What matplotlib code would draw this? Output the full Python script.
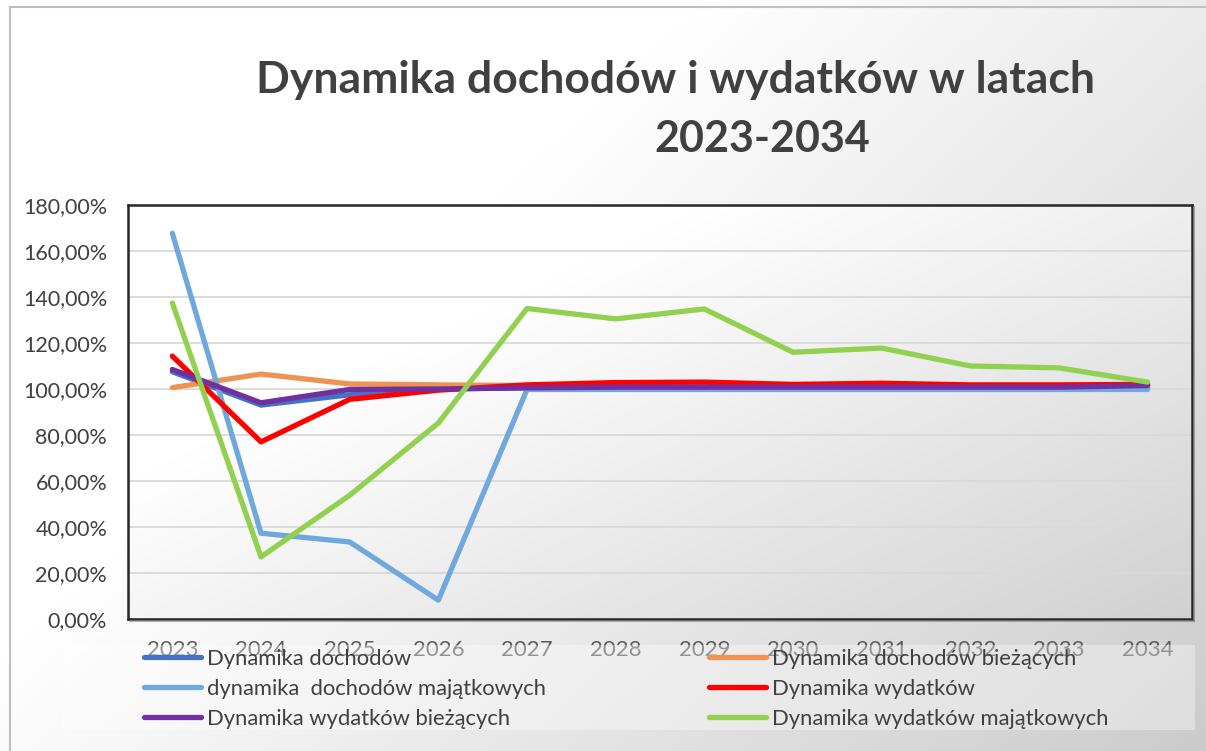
import numpy as np
import matplotlib
matplotlib.use("Agg")
import matplotlib.pyplot as plt
from matplotlib.ticker import FuncFormatter, MultipleLocator
from matplotlib.lines import Line2D
from matplotlib.patches import Rectangle

plt.rcParams['font.family'] = ['Lato', 'DejaVu Sans']

years = ['2023', '2024', '2025', '2026', '2027', '2028', '2029', '2030', '2031', '2032', '2033', '2034']

dochody = [107.5, 93.0, 97.5, 100.0, 100.5, 100.5, 100.5, 100.3, 100.3, 100.2, 100.2, 100.3]
dochody_biezace = [100.6, 106.5, 102.2, 101.8, 101.5, 101.5, 101.5, 101.3, 101.3, 101.3, 101.3, 101.3]
dochody_majatkowe = [167.7, 37.3, 33.5, 8.2, 99.8, 99.8, 99.8, 99.8, 99.8, 99.8, 99.8, 99.8]
wydatki = [114.3, 77.0, 95.5, 99.5, 101.8, 102.8, 103.0, 102.0, 102.5, 101.8, 101.8, 102.0]
wydatki_biezace = [108.5, 94.0, 99.8, 100.0, 100.5, 100.8, 100.8, 100.8, 100.8, 100.8, 100.8, 101.5]
wydatki_majatkowe = [137.4, 27.0, 53.8, 85.2, 135.0, 130.5, 134.8, 116.0, 117.8, 110.0, 109.2, 103.0]

series_names = ['Dynamika dochodów', 'Dynamika dochodów bieżących',
                'dynamika  dochodów majątkowych', 'Dynamika wydatków',
                'Dynamika wydatków bieżących', 'Dynamika wydatków majątkowych']
series_values = [dochody, dochody_biezace, dochody_majatkowe, wydatki, wydatki_biezace, wydatki_majatkowe]
colors = ['#4472C4', '#EF9352', '#6FA8DC', '#FF0000', '#7030A0', '#92D050']

W, H = 1206, 751
fig = plt.figure(figsize=(W / 100, H / 100), dpi=100)

# figure gradient background
bg = fig.add_axes([0, 0, 1, 1], zorder=-10)
yy, xx = np.mgrid[0:1:200j, 0:1:300j]
t = np.clip((0.6 * xx + 0.4 * yy - 0.35) / 0.65, 0, 1)
g = 1 - 0.20 * t
bg.imshow(np.dstack([g, g, g]), extent=[0, 1, 0, 1], aspect='auto', origin='upper')
bg.set_xlim(0, 1); bg.set_ylim(0, 1)
bg.axis('off')
bg.plot([10 / W, 10 / W], [0, 1 - 7 / H], color='#bfbfbf', lw=1.5)
bg.plot([10 / W, 1], [1 - 7 / H, 1 - 7 / H], color='#bfbfbf', lw=1.5)

left, right, top, bottom = 128, 1192, 205, 619
ax = fig.add_axes([left / W, 1 - bottom / H, (right - left) / W, (bottom - top) / H])
ax.patch.set_visible(False)
yy2, xx2 = np.mgrid[0:1:200j, 0:1:300j]
t2 = np.clip((0.55 * xx2 + 0.45 * yy2 - 0.3) / 0.7, 0, 1)
g2 = 1 - 0.18 * t2
ax.imshow(np.dstack([g2, g2, g2]), extent=[0, 1, 0, 1], transform=ax.transAxes,
          aspect='auto', origin='upper', zorder=0)

x = np.arange(len(years))
for name, vals, c in zip(series_names, series_values, colors):
    ax.plot(x, vals, color=c, lw=3.8, solid_capstyle='round',
            solid_joinstyle='round', label=name, zorder=3)

ax.set_xlim(-0.5, 11.5)
ax.set_ylim(0, 180)
ax.yaxis.set_major_locator(MultipleLocator(20))
ax.yaxis.set_major_formatter(FuncFormatter(lambda v, p: f"{v:.2f}%".replace('.', ',')))
ax.set_xticks(x)
ax.set_xticklabels(years)
ax.grid(axis='y', color='#d9d9d9', lw=1.3, zorder=1)
ax.tick_params(axis='both', length=0)
ax.tick_params(axis='y', pad=15, labelsize=15.5, labelcolor='#404040')
ax.tick_params(axis='x', pad=15, labelsize=16, labelcolor='#595959')
for s in ax.spines.values():
    s.set_color('#262626')
    s.set_linewidth(1.8)
    s.set_zorder(5)
# subtle shadow of the plot frame
fig.add_artist(Line2D([(left + 2) / W, (right + 2) / W], [1 - (bottom + 2) / H] * 2,
                      color='#7f7f7f', lw=1.5, alpha=0.6, zorder=0.5))
fig.add_artist(Line2D([(right + 2) / W] * 2, [1 - (top + 2) / H, 1 - (bottom + 2) / H],
                      color='#7f7f7f', lw=1.5, alpha=0.6, zorder=0.5))

# title
fig.text(676 / W, 1 - 80 / H, 'Dynamika dochodów i wydatków w latach', ha='center', va='center',
         fontsize=32, fontweight='bold', color='#404040')
fig.text(762 / W, 1 - 139 / H, '2023-2034', ha='center', va='center',
         fontsize=31, fontweight='bold', color='#404040')

# translucent legend box overlapping x tick labels
fig.add_artist(Rectangle((62 / W, 1 - 730 / H), (1195 - 62) / W, (730 - 645) / H,
                         transform=fig.transFigure, facecolor='white', alpha=0.35,
                         edgecolor='none', zorder=2))

order = [0, 2, 4, 1, 3, 5]
leg_handles = [Line2D([0], [0], color=colors[i], lw=3.8, solid_capstyle='round') for i in order]
leg_labels = [series_names[i] for i in order]
leg = fig.legend(leg_handles, leg_labels, ncol=2, loc='upper left',
                 bbox_to_anchor=(144 / W, 1 - 649 / H), bbox_transform=fig.transFigure,
                 frameon=False, fontsize=15.8, handlelength=2.6, handletextpad=0.28,
                 borderaxespad=0, borderpad=0, labelspacing=0.45, columnspacing=7.4)
leg.set_zorder(10)
for txt in leg.get_texts():
    txt.set_color('#404040')

fig.savefig('out.png', dpi=100)
